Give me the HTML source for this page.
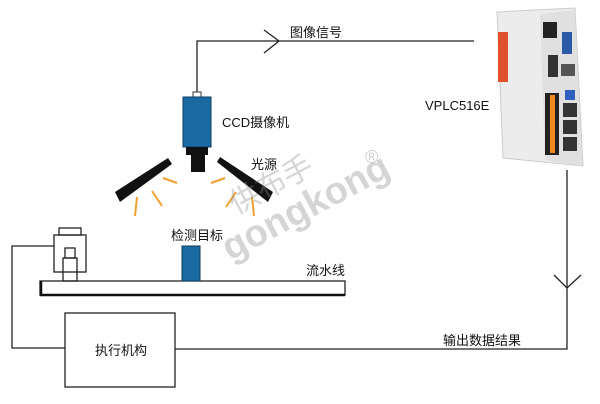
<!DOCTYPE html><html><head><style>body{margin:0;background:#fff}svg{display:block}text{font-family:"Liberation Sans","Noto Sans CJK SC",sans-serif;font-size:13px;fill:#111}</style></head><body>
<svg width="600" height="404" viewBox="0 0 600 404">
<g fill="none" stroke="#222" stroke-width="1.3">
<polyline points="197,92 197,41 474,41"/>
<polyline points="264,30 279,41 264,53"/>
<polyline points="567,170 567,349 175,349"/>
<polyline points="554,275 567,288 581,275"/>
<polyline points="54,246 12,246 12,348 65,348"/>
<rect x="65" y="313" width="110" height="74"/>
<rect x="59" y="228" width="22" height="7"/>
<rect x="54" y="235" width="32" height="37"/>
<rect x="65" y="248" width="10" height="10"/>
<rect x="63" y="258" width="14" height="23"/>
<rect x="40" y="281" width="305" height="14"/>
</g>
<line x1="40" y1="295" x2="345" y2="295" stroke="#111" stroke-width="2.5"/>
<line x1="41" y1="281" x2="41" y2="296" stroke="#111" stroke-width="2.5"/>
<rect x="193" y="92" width="8" height="6" fill="#fff" stroke="#333" stroke-width="1"/>
<rect x="183" y="97" width="28" height="50" fill="#1c6aa3" stroke="#0d3d60"/>
<rect x="186" y="147" width="22" height="8" fill="#111"/>
<rect x="191" y="155" width="14" height="17" fill="#111"/>
<polygon points="115,192 168,158 172,164 120,202" fill="#111"/>
<polygon points="217,162 220,157 273,192 268,202" fill="#111"/>
<g stroke="#f0a030" stroke-width="2">
<line x1="163" y1="178" x2="177" y2="183"/><line x1="152" y1="191" x2="162" y2="206"/><line x1="137" y1="197" x2="135" y2="216"/>
<line x1="211" y1="183" x2="225" y2="178"/><line x1="236" y1="192" x2="226" y2="207"/><line x1="252" y1="197" x2="254" y2="216"/>
</g>
<rect x="182" y="246" width="18" height="35" fill="#1c6aa3" stroke="#0d3d60"/>
<text x="222" y="127">CCD摄像机</text>
<text x="251" y="169">光源</text>
<text x="171" y="240">检测目标</text>
<text x="306" y="275">流水线</text>
<text x="290" y="37">图像信号</text>
<text x="443" y="345">输出数据结果</text>
<text x="95" y="355">执行机构</text>
<text x="425" y="110">VPLC516E</text>
<g opacity="0.35" transform="rotate(-28 300 190)"><text x="205" y="220" style="font-size:38px;font-weight:bold;fill:#888">gongkong</text><text x="232" y="182" style="font-size:30px;fill:#888">供布手</text></g>
<text x="365" y="163" opacity="0.4" style="font-size:18px;fill:#888">®</text>
<g>
<polygon points="497,12 575,8 583,166 503,158" fill="#ececec" stroke="#ccc"/>
<polygon points="540,14 575,10 582,166 545,160" fill="#e0e0e0"/>
<rect x="498" y="32" width="10" height="50" fill="#e0502a"/>
<rect x="543" y="22" width="14" height="16" fill="#222"/>
<rect x="562" y="32" width="10" height="22" fill="#2a5aa8"/>
<rect x="548" y="55" width="10" height="22" fill="#333"/>
<rect x="561" y="64" width="14" height="12" fill="#555"/>
<rect x="545" y="93" width="14" height="62" fill="#222"/>
<rect x="550" y="95" width="5" height="58" fill="#f08a20"/>
<rect x="565" y="90" width="10" height="10" fill="#3060c0"/>
<rect x="563" y="103" width="14" height="14" fill="#333"/>
<rect x="563" y="120" width="14" height="14" fill="#333"/>
<rect x="563" y="137" width="14" height="14" fill="#333"/>
</g>
</svg></body></html>
